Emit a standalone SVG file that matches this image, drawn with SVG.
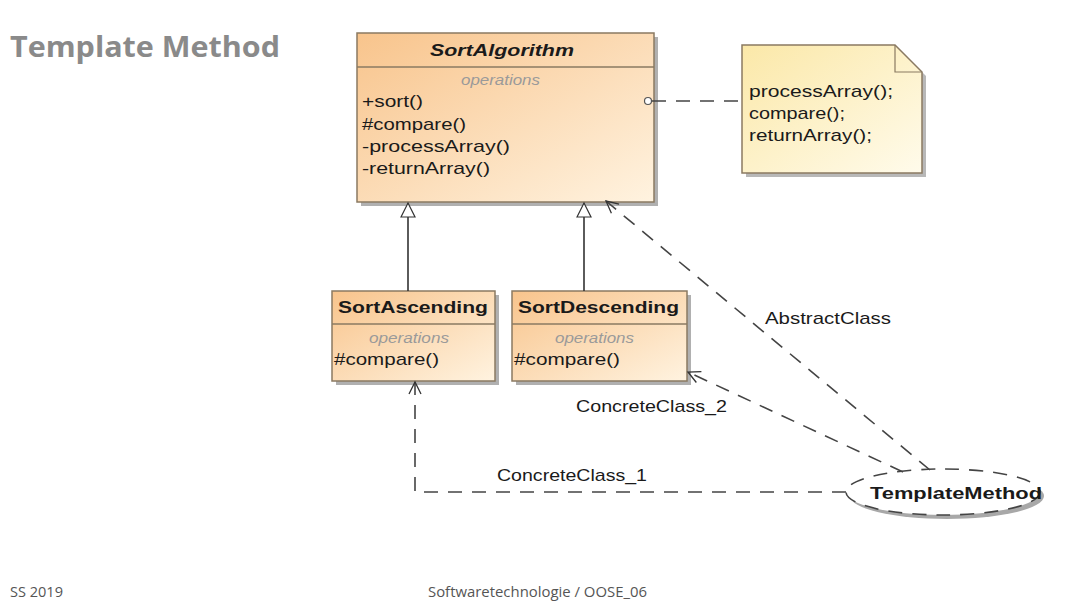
<svg xmlns="http://www.w3.org/2000/svg" width="1080" height="606" viewBox="0 0 1080 606">
<defs>
<linearGradient id="cls" x1="0" y1="0" x2="1" y2="1">
<stop offset="0" stop-color="#f8c48c"/>
<stop offset="1" stop-color="#fff3e0"/>
</linearGradient>
<linearGradient id="note" x1="0" y1="0" x2="1" y2="1">
<stop offset="0" stop-color="#fbe8a8"/>
<stop offset="1" stop-color="#fffbeb"/>
</linearGradient>
<marker id="tri" markerWidth="18" markerHeight="18" refX="15" refY="8" orient="auto" markerUnits="userSpaceOnUse">
<path d="M1,1 L15,8 L1,15 Z" fill="#fff" stroke="#333" stroke-width="1.2"/>
</marker>
<marker id="open" markerWidth="18" markerHeight="18" refX="15" refY="8" orient="auto" markerUnits="userSpaceOnUse">
<path d="M3,2 L15,8 L3,14" fill="none" stroke="#333" stroke-width="1.3"/>
</marker>
</defs>
<style>
.box{fill:url(#cls);stroke:#8a7a62;stroke-width:1.5}
.shadow{fill:#b0b0b0}
.t{font-family:"Liberation Sans",Arial,sans-serif;font-size:17px;fill:#1a1a1a}
.b{font-weight:bold}
.ops{font-family:"Liberation Sans",Arial,sans-serif;font-size:15px;font-style:italic;fill:#9a9a9a}
.dash{fill:none;stroke:#444;stroke-width:1.6;stroke-dasharray:14,10}
.solid{fill:none;stroke:#333;stroke-width:1.6}
.foot{font-family:"Open Sans","Liberation Sans",sans-serif;font-size:14px;fill:#555}
</style>
<rect width="1080" height="606" fill="#fff"/>
<text x="10" y="57" font-family="Open Sans, Liberation Sans, sans-serif" font-weight="bold" font-size="28" fill="#8a8a8a" textLength="270" lengthAdjust="spacingAndGlyphs">Template Method</text>

<g id="SortAlgorithm">
<rect class="shadow" x="361" y="37" width="297" height="169"/>
<rect class="box" x="357" y="33" width="297" height="169"/>
<line x1="357" y1="67" x2="654" y2="67" stroke="#8a7a62" stroke-width="1.5"/>
<text class="t b" x="430" y="56" font-style="italic" font-size="18" textLength="144" lengthAdjust="spacingAndGlyphs">SortAlgorithm</text>
<text class="ops" x="461" y="85" textLength="79" lengthAdjust="spacingAndGlyphs">operations</text>
<text class="t" x="362" y="107" textLength="61" lengthAdjust="spacingAndGlyphs">+sort()</text>
<text class="t" x="362" y="130" textLength="104" lengthAdjust="spacingAndGlyphs">#compare()</text>
<text class="t" x="362" y="152" textLength="148" lengthAdjust="spacingAndGlyphs">-processArray()</text>
<text class="t" x="362" y="174" textLength="128" lengthAdjust="spacingAndGlyphs">-returnArray()</text>
</g>

<g id="note1">
<path d="M746,49 L899,49 L926,76 L926,177 L746,177 Z" fill="#b8b8b8"/>
<path d="M742,45 L895,45 L922,72 L922,173 L742,173 Z" fill="url(#note)" stroke="#8a7a62" stroke-width="1.5"/>
<path d="M895,45 L895,72 L922,72" fill="none" stroke="#8a7a62" stroke-width="1.2"/>
<text class="t" x="749" y="97" textLength="144" lengthAdjust="spacingAndGlyphs">processArray();</text>
<text class="t" x="749" y="119" textLength="96" lengthAdjust="spacingAndGlyphs">compare();</text>
<text class="t" x="749" y="141" textLength="123" lengthAdjust="spacingAndGlyphs">returnArray();</text>
</g>

<g id="SortAscending">
<rect class="shadow" x="336" y="295" width="163" height="90"/>
<rect class="box" x="332" y="291" width="163" height="90"/>
<line x1="332" y1="324" x2="495" y2="324" stroke="#8a7a62" stroke-width="1.5"/>
<text class="t b" x="338" y="313" font-size="18" textLength="150" lengthAdjust="spacingAndGlyphs">SortAscending</text>
<text class="ops" x="369" y="343" textLength="80" lengthAdjust="spacingAndGlyphs">operations</text>
<text class="t" x="334" y="365" textLength="105" lengthAdjust="spacingAndGlyphs">#compare()</text>
</g>

<g id="SortDescending">
<rect class="shadow" x="516" y="295" width="175" height="90"/>
<rect class="box" x="512" y="291" width="175" height="90"/>
<line x1="512" y1="324" x2="687" y2="324" stroke="#8a7a62" stroke-width="1.5"/>
<text class="t b" x="518" y="313" font-size="18" textLength="161" lengthAdjust="spacingAndGlyphs">SortDescending</text>
<text class="ops" x="555" y="343" textLength="79" lengthAdjust="spacingAndGlyphs">operations</text>
<text class="t" x="514" y="365" textLength="106" lengthAdjust="spacingAndGlyphs">#compare()</text>
</g>

<g id="TemplateMethod">
<ellipse cx="947" cy="496" rx="97" ry="23" fill="#a8a8a8"/>
<ellipse cx="943" cy="492" rx="97" ry="23" fill="#fff" stroke="#444" stroke-width="1.6" stroke-dasharray="14,10"/>
<text class="t b" x="870" y="499" fill="#1a1a2a" textLength="172" lengthAdjust="spacingAndGlyphs">TemplateMethod</text>
</g>

<g id="connectors">
<line class="solid" x1="408" y1="291" x2="408" y2="203" marker-end="url(#tri)"/>
<line class="solid" x1="584" y1="291" x2="584" y2="203" marker-end="url(#tri)"/>
<line class="dash" x1="652" y1="101" x2="742" y2="101"/>
<circle cx="648" cy="101" r="3.5" fill="#fff" stroke="#555" stroke-width="1.2"/>
<line class="dash" x1="930" y1="470" x2="606" y2="201" marker-end="url(#open)"/>
<line class="dash" x1="903" y1="472" x2="688" y2="372" marker-end="url(#open)"/>
<polyline class="dash" points="846,492 415,492 415,382" marker-end="url(#open)"/>
<text class="t" x="765" y="324" textLength="126" lengthAdjust="spacingAndGlyphs">AbstractClass</text>
<text class="t" x="576" y="412" textLength="151" lengthAdjust="spacingAndGlyphs">ConcreteClass_2</text>
<text class="t" x="497" y="481" textLength="150" lengthAdjust="spacingAndGlyphs">ConcreteClass_1</text>
</g>

<text class="foot" x="10" y="597" textLength="53" lengthAdjust="spacingAndGlyphs">SS 2019</text>
<text class="foot" x="428" y="597" textLength="219" lengthAdjust="spacingAndGlyphs">Softwaretechnologie / OOSE_06</text>
</svg>
